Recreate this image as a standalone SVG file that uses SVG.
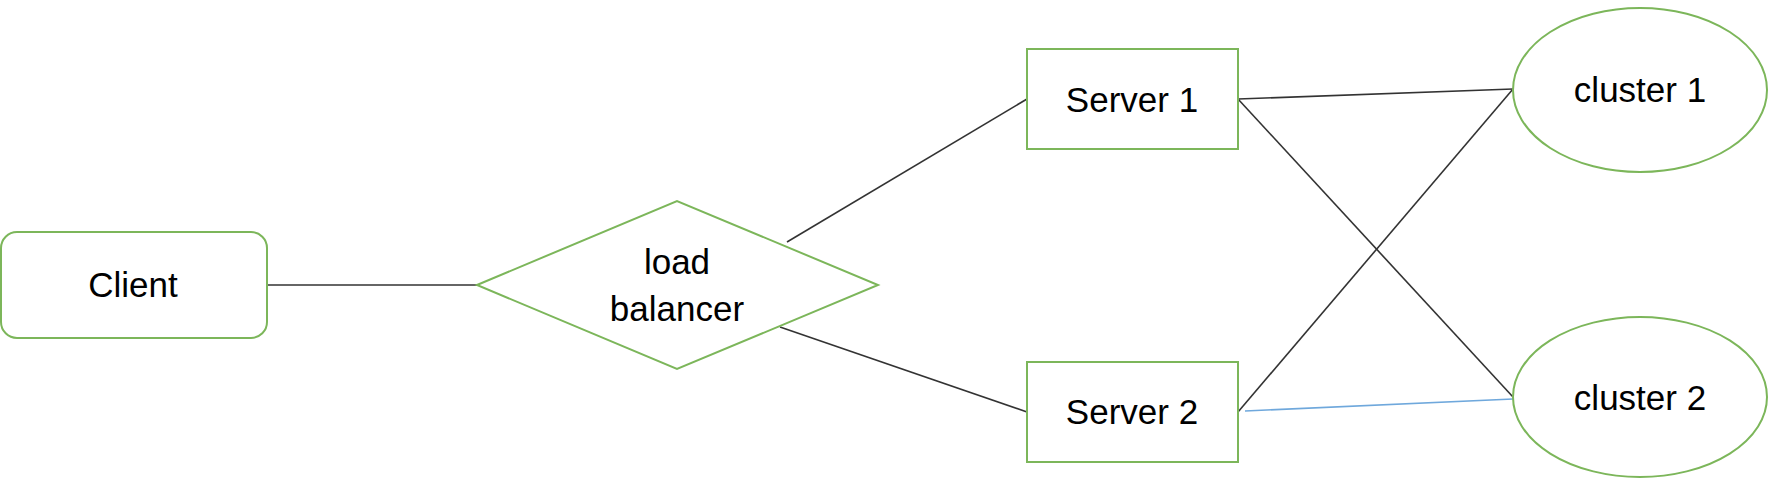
<svg xmlns="http://www.w3.org/2000/svg" width="1776" height="480" viewBox="0 0 1776 480">
<style>
.node{fill:#ffffff;stroke:#7cb65a;stroke-width:2}
.lbl{font-family:"Liberation Sans",Arial,sans-serif;font-size:35px;fill:#000000;text-anchor:middle}
.edge{stroke:#333333;stroke-width:1.6;fill:none}
.edge-blue{stroke:#6fa8dc;stroke-width:1.6;fill:none}
</style>
<rect width="1776" height="480" fill="#ffffff"/>
<g id="connectors">
<line class="edge" x1="267" y1="285" x2="477" y2="285"/>
<line class="edge" x1="787" y1="242" x2="1027" y2="99"/>
<line class="edge" x1="780" y1="327" x2="1027" y2="412"/>
<line class="edge" x1="1238" y1="99" x2="1513" y2="89"/>
<line class="edge" x1="1238" y1="99" x2="1513" y2="397"/>
<line class="edge" x1="1238" y1="412" x2="1513" y2="89"/>
<line class="edge-blue" x1="1245" y1="411" x2="1513" y2="399"/>
</g>
<g id="client">
<rect class="node" x="1" y="232" width="266" height="106" rx="16" ry="16"/>
<text class="lbl" x="133" y="297">Client</text>
</g>
<g id="load-balancer">
<polygon class="node" points="477,285 677,201 878,285 677,369"/>
<text class="lbl" x="677" y="274">load</text>
<text class="lbl" x="677" y="321">balancer</text>
</g>
<g id="server1">
<rect class="node" x="1027" y="49" width="211" height="100"/>
<text class="lbl" x="1132" y="112">Server 1</text>
</g>
<g id="server2">
<rect class="node" x="1027" y="362" width="211" height="100"/>
<text class="lbl" x="1132" y="424">Server 2</text>
</g>
<g id="cluster1">
<ellipse class="node" cx="1640" cy="90" rx="127" ry="82"/>
<text class="lbl" x="1640" y="102">cluster 1</text>
</g>
<g id="cluster2">
<ellipse class="node" cx="1640" cy="397" rx="127" ry="80"/>
<text class="lbl" x="1640" y="410">cluster 2</text>
</g>
</svg>
